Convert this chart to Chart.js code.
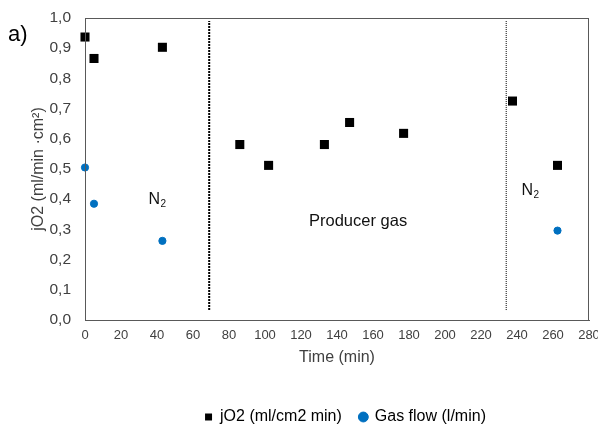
<!DOCTYPE html>
<html><head><meta charset="utf-8">
<script src="https://cdn.jsdelivr.net/npm/chart.js@4"></script>
<style>html,body{margin:0;padding:0;background:#fff}#wrap{width:598px;height:431px}</style>
</head><body><div id="wrap"><canvas id="c" width="598" height="431"></canvas></div>
<script>
const jo2Time = [0, 5, 43, 86, 102, 133, 147, 177, 237.5, 262.5];
const jo2Values = [0.937, 0.866, 0.903, 0.581, 0.512, 0.581, 0.654, 0.618, 0.725, 0.512];
const gasTime = [0, 5, 43, 262.5];
const gasValues = [0.505, 0.385, 0.262, 0.296];
const dividerTimes = [69, 234];
const annotations = [
  {text: 'N', sub: '2', x: 40, y: 0.399, size: 16},
  {text: 'Producer gas', sub: '', x: 151.7, y: 0.326, size: 16.5},
  {text: 'N', sub: '2', x: 247.2, y: 0.43, size: 16}
];
const FONT = "'Liberation Sans', Arial, sans-serif";
const TXT = '#404040';

const pts = (xs, ys) => xs.map((x, i) => ({x, y: ys[i]}));

const extras = {
  id: 'extras',
  afterLayout(chart) {
    if (chart.legend) { chart.legend.left += 102; }
  },
  afterDraw(chart) {
    const {ctx, chartArea: a, scales: {x, y}} = chart;
    ctx.save();
    ctx.strokeStyle = '#595959';
    ctx.lineWidth = 1;
    ctx.strokeRect(a.left + 0.5, a.top + 0.5, a.right - a.left - 1, a.bottom - a.top);
    ctx.fillStyle = '#111';
    ctx.textBaseline = 'middle';
    annotations.forEach(an => {
      const px = x.getPixelForValue(an.x), py = y.getPixelForValue(an.y);
      ctx.font = an.size + 'px ' + FONT;
      const w = ctx.measureText(an.text).width;
      ctx.font = '10px ' + FONT;
      const sw = an.sub ? ctx.measureText(an.sub).width : 0;
      const start = px - (w + sw) / 2;
      ctx.textAlign = 'left';
      ctx.font = an.size + 'px ' + FONT;
      ctx.fillText(an.text, start, py);
      if (an.sub) { ctx.font = '10px ' + FONT; ctx.fillText(an.sub, start + w + 0.5, py + 5); }
    });
    ctx.font = '22px ' + FONT;
    ctx.textAlign = 'left';
    ctx.textBaseline = 'alphabetic';
    ctx.fillStyle = '#000';
    ctx.fillText('a)', 8, 41);
    ctx.restore();
  }
};

new Chart(document.getElementById('c'), {
  type: 'scatter',
  data: {
    datasets: [
      {label: 'jO2 (ml/cm2 min)', data: pts(jo2Time, jo2Values), pointStyle: 'rect', pointRadius: 6.4,
       backgroundColor: '#000', borderColor: '#000', borderWidth: 0, pointHoverRadius: 6.4, clip: false},
      {label: 'Gas flow (l/min)', data: pts(gasTime, gasValues), pointStyle: 'circle', pointRadius: 3.6,
       backgroundColor: '#0070C0', borderColor: '#0070C0', borderWidth: 1, clip: false},
      {type: 'line', label: 'div1', data: [{x: dividerTimes[0], y: 0.033}, {x: dividerTimes[0], y: 0.99}],
       borderColor: '#000', borderWidth: 2, borderDash: [2, 1], pointRadius: 0, showLine: true, fill: false},
      {type: 'line', label: 'div2', data: [{x: dividerTimes[1], y: 0.033}, {x: dividerTimes[1], y: 0.99}],
       borderColor: '#000', borderWidth: 1, borderDash: [1, 1], pointRadius: 0, showLine: true, fill: false}
    ]
  },
  options: {
    responsive: false, animation: false, devicePixelRatio: 1,
    layout: {padding: {left: 0, right: 9, top: 18, bottom: -4}},
    plugins: {
      tooltip: {enabled: false},
      legend: {
        position: 'bottom',
        labels: {
          filter: it => !it.text.startsWith('div'),
          usePointStyle: true, color: '#000', font: {family: FONT, size: 16},
          boxWidth: 7, boxHeight: 7, padding: 18
        }
      }
    },
    scales: {
      x: {
        type: 'linear', min: 0, max: 280,
        ticks: {stepSize: 20, color: TXT, font: {family: FONT, size: 13}, padding: 8, maxRotation: 0},
        grid: {display: false, drawTicks: false},
        border: {color: '#595959'},
        title: {display: true, text: 'Time (min)', color: TXT, font: {family: FONT, size: 16}, padding: {top: 4, bottom: 24}},
        afterFit(s) { s.height = 71; s.paddingLeft = 0; s.paddingRight = 0; }
      },
      y: {
        min: 0, max: 1,
        ticks: {stepSize: 0.1, color: TXT, font: {family: FONT, size: 15.5}, padding: 14,
                callback: v => v.toFixed(1).replace('.', ',')},
        grid: {display: false, drawTicks: false},
        border: {color: '#595959'},
        title: {display: true, text: 'jO2 (ml/min ·cm²)', color: TXT, font: {family: FONT, size: 16}, padding: {top: 29, bottom: 0}},
        afterFit(s) { s.width = 85; s.paddingTop = 0; s.paddingBottom = 0; }
      }
    }
  },
  plugins: [extras]
});
</script></body></html>
